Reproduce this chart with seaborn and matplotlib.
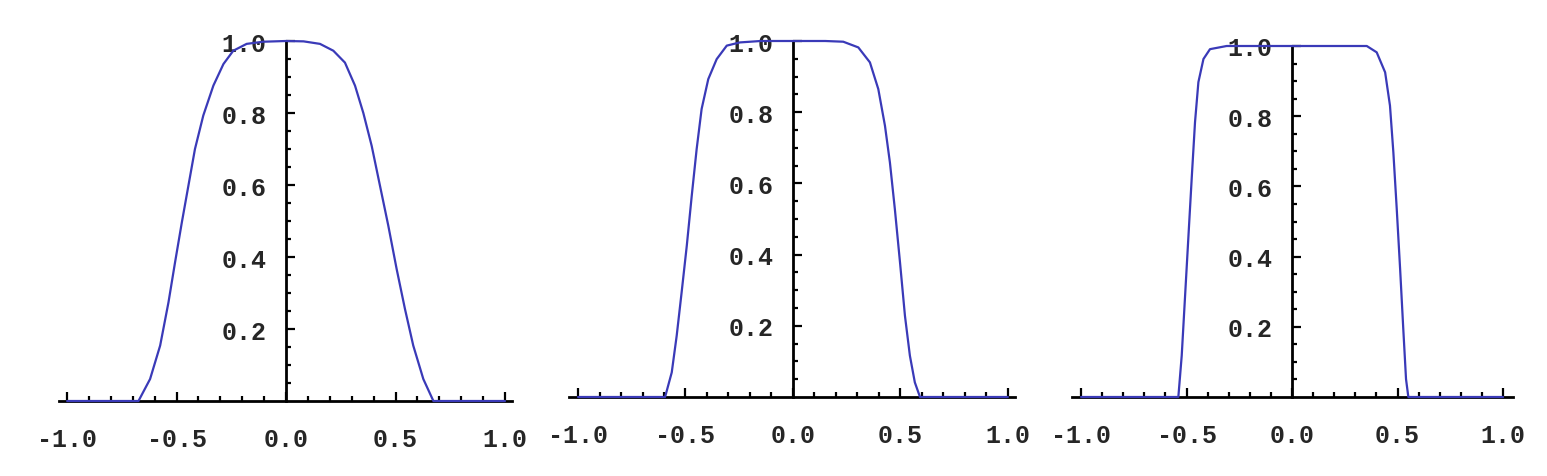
#!/usr/bin/env python3
import matplotlib
matplotlib.use('Agg')
import matplotlib.pyplot as plt
from matplotlib.ticker import MultipleLocator, FixedLocator
import seaborn as sns
import pandas as pd

sns.set_style('white')
plt.rcParams['font.family'] = ['Liberation Mono', 'DejaVu Sans']

# curves (x, y)
x1 = [-1.0, -0.674, -0.621, -0.575, -0.537, -0.507, -0.476, -0.446, -0.416, -0.378,
      -0.332, -0.286, -0.241, -0.18, -0.104, 0.0, 0.08, 0.155, 0.216, 0.269, 0.315,
      0.353, 0.391, 0.429, 0.467, 0.505, 0.543, 0.581, 0.627, 0.673, 1.0]
y1 = [0.0, 0.0, 0.061, 0.154, 0.274, 0.385, 0.496, 0.598, 0.70, 0.793,
      0.876, 0.936, 0.973, 0.992, 0.998, 1.0, 0.999, 0.992, 0.973, 0.94, 0.876,
      0.80, 0.709, 0.598, 0.487, 0.367, 0.256, 0.154, 0.061, 0.0, 0.0]

x2 = [-1.0, -0.595, -0.564, -0.541, -0.518, -0.494, -0.471, -0.448, -0.425, -0.394,
      -0.355, -0.308, -0.247, -0.15, 0.0, 0.15, 0.234, 0.304, 0.358, 0.397, 0.428,
      0.451, 0.474, 0.498, 0.521, 0.544, 0.567, 0.591, 1.0]
y2 = [0.0, 0.0, 0.069, 0.172, 0.294, 0.425, 0.565, 0.697, 0.809, 0.893,
      0.949, 0.987, 0.996, 1.0, 1.0, 1.0, 0.998, 0.982, 0.94, 0.865, 0.762,
      0.659, 0.528, 0.378, 0.228, 0.116, 0.041, 0.0, 0.0]

x3 = [-1.0, -0.539, -0.523, -0.507, -0.491, -0.475, -0.46, -0.444, -0.42, -0.389,
      -0.31, 0.0, 0.354, 0.401, 0.441, 0.464, 0.48, 0.496, 0.512, 0.527, 0.54,
      0.551, 1.0]
y3 = [0.0, 0.0, 0.118, 0.289, 0.46, 0.63, 0.783, 0.897, 0.963, 0.991,
      1.0, 1.0, 1.0, 0.982, 0.925, 0.83, 0.697, 0.536, 0.365, 0.194, 0.051,
      0.0, 0.0]

xticks = [-1.0, -0.5, 0.0, 0.5, 1.0]
xlabels = ['-1.0', '-0.5', '0.0', '0.5', '1.0']
yticks = [0.2, 0.4, 0.6, 0.8, 1.0]
ylabels = ['0.2', '0.4', '0.6', '0.8', '1.0']

W, H = 1547, 477
fig = plt.figure(figsize=(W / 100, H / 100), dpi=100)

# pixel boxes of each panel: left, right, y0 row, y1 row, xlim
panels = [
    (x1, y1, 59, 512, 402, 42, (-1.037, 1.032)),
    (x2, y2, 569, 1015, 398, 42, (-1.042, 1.033)),
    (x3, y3, 1072, 1513, 398, 47, (-1.043, 1.047)),
]

for xs, ys, left, right, bot, top, xlim in panels:
    ax = fig.add_axes([left / W, (H - bot) / H, (right - left) / W, (bot - top) / H])
    df = pd.DataFrame({'x': xs, 'y': ys})
    sns.lineplot(data=df, x='x', y='y', ax=ax, color='#3a3ab8', lw=1.6,
                 sort=False, estimator=None, clip_on=False, zorder=1)
    ax.set_xlim(*xlim)
    ax.set_ylim(0, 1.0)
    ax.set_xlabel('')
    ax.set_ylabel('')
    ax.patch.set_alpha(0)
    for s in ['top', 'right']:
        ax.spines[s].set_visible(False)
    ax.spines['left'].set_position(('data', 0))
    ax.spines['bottom'].set_position(('data', 0))
    for s in ['left', 'bottom']:
        ax.spines[s].set_linewidth(2.0)
        ax.spines[s].set_color('black')
        ax.spines[s].set_zorder(0.5)
    ax.set_xticks(xticks)
    ax.set_xticklabels(xlabels, fontweight='bold')
    ax.set_yticks(yticks)
    ax.set_yticklabels(ylabels, fontweight='bold')
    ax.xaxis.set_minor_locator(MultipleLocator(0.1))
    ax.yaxis.set_minor_locator(FixedLocator([0.05 * i for i in range(1, 20)]))
    ax.tick_params(which='both', direction='in', color='black', width=1.6,
                   bottom=True, left=True)
    ax.tick_params(which='major', length=6.5, labelsize=18)
    ax.tick_params(which='minor', length=3.6)
    ax.tick_params(axis='x', which='major', pad=19)
    ax.tick_params(axis='y', which='major', pad=14)

plt.savefig('out.png', dpi=100)
